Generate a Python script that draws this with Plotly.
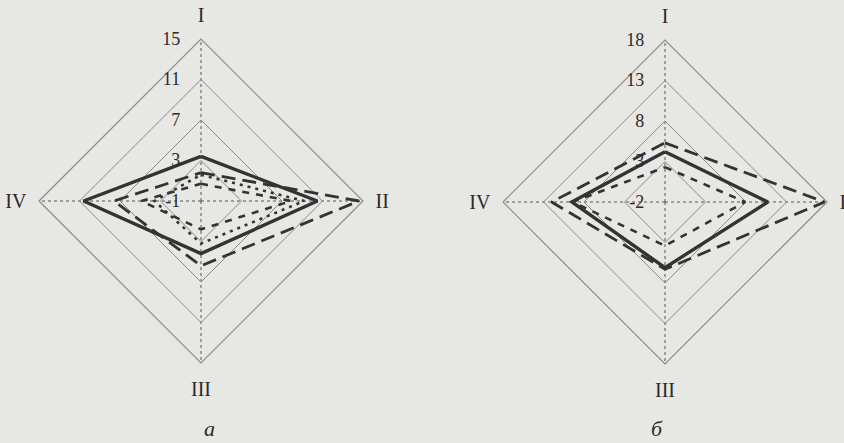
import plotly.graph_objects as go

axes = ["I", "II", "III", "IV"]

# Chart a (radial scale -1 .. 15)
a_ticks = [-1, 3, 7, 11, 15]
a_solid = [3.4, 10.5, 4.2, 10.6]
a_longdash = [1.8, 14.6, 5.4, 7.6]
a_dash = [0.7, 7.9, 1.8, 4.9]
a_dot = [1.6, 9.2, 3.2, 3.6]

# Chart б (radial scale -2 .. 18)
b_ticks = [-2, 3, 8, 13, 18]
b_solid = [4.2, 10.7, 6.1, 9.5]
b_longdash = [5.3, 17.7, 6.3, 12.0]
b_dash = [2.3, 7.9, 3.4, 9.4]

panel_labels = ["а", "б"]

BG = "#e7e7e4"
LINE = "#333333"
GRID = "#8a8a8a"
TEXT = "#2a2a2a"
FONT = "Liberation Serif"

W, H = 844, 443

def closed(vals):
    return list(vals) + [vals[0]]

theta = closed(axes)

fig = go.Figure()

styles = [
    ("solid", 3.4),
    ("14px,7px", 2.8),
    ("7px,7px", 2.6),
    ("3px,5px", 2.6),
]

for i, series in enumerate([a_solid, a_longdash, a_dash, a_dot]):
    dash, w = styles[i]
    fig.add_trace(go.Scatterpolar(r=closed(series), theta=theta, mode="lines",
                                  line=dict(color=LINE, width=w, dash=dash),
                                  subplot="polar", showlegend=False))

for i, series in enumerate([b_solid, b_longdash, b_dash]):
    dash, w = styles[i]
    fig.add_trace(go.Scatterpolar(r=closed(series), theta=theta, mode="lines",
                                  line=dict(color=LINE, width=w, dash=dash),
                                  subplot="polar2", showlegend=False))

def polar_cfg(cx, cy, R, ticks):
    return dict(
        domain=dict(x=[(cx - R) / W, (cx + R) / W],
                    y=[(H - cy - R) / H, (H - cy + R) / H]),
        bgcolor=BG,
        gridshape="linear",
        angularaxis=dict(
            categoryorder="array", categoryarray=axes,
            rotation=90, direction="clockwise",
            showline=True, linecolor=GRID, linewidth=1.2,
            showgrid=True, gridcolor="#555555", griddash="dot", gridwidth=1.2,
            ticks="outside", ticklen=8, tickcolor="rgba(0,0,0,0)",
            tickfont=dict(family=FONT, size=20, color=TEXT),
        ),
        radialaxis=dict(
            range=[ticks[0], ticks[-1]], tickvals=ticks,
            ticktext=[str(t) for t in ticks],
            angle=90, tickangle=90, side="counterclockwise",
            showline=False, ticks="outside", ticklen=14,
            tickcolor="rgba(0,0,0,0)",
            showgrid=True, gridcolor=GRID, gridwidth=1.2,
            tickfont=dict(family=FONT, size=18, color=TEXT),
        ),
    )

fig.update_layout(
    width=W, height=H,
    margin=dict(l=0, r=0, t=0, b=0),
    paper_bgcolor=BG, plot_bgcolor=BG,
    polar=polar_cfg(201, 201, 162, a_ticks),
    polar2=polar_cfg(665, 202, 162, b_ticks),
    annotations=[
        dict(text="<i>" + panel_labels[0] + "</i>", x=202 / W, y=1 - 428 / H,
             xref="paper", yref="paper", showarrow=False, yanchor="middle",
             font=dict(family=FONT, size=22, color=TEXT)),
        dict(text="<i>" + panel_labels[1] + "</i>", x=665 / W, y=1 - 428 / H,
             xref="paper", yref="paper", showarrow=False, yanchor="middle",
             font=dict(family=FONT, size=22, color=TEXT)),
    ],
)

fig.write_html("out.html", config={"displayModeBar": False},
               post_script="document.body.style.margin='0';document.body.style.overflow='hidden';")
